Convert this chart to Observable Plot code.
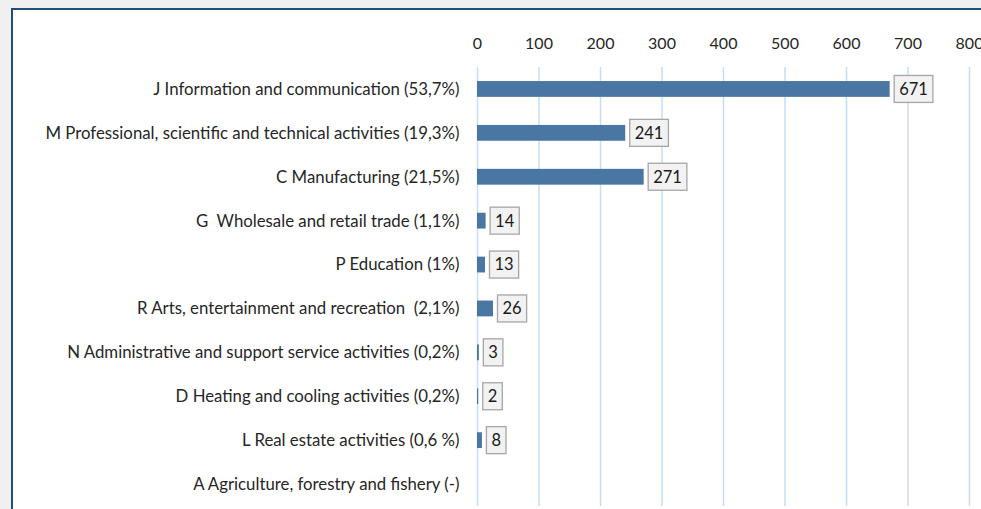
<!DOCTYPE html>
<html><head><meta charset="utf-8">
<script src="https://cdn.jsdelivr.net/npm/d3@7"></script>
<script src="https://cdn.jsdelivr.net/npm/@observablehq/plot@0.6"></script>
<style>
html,body{margin:0;padding:0;background:#f0f0f0;overflow:hidden;width:981px;height:509px}
#frame{position:absolute;left:11px;top:8px;width:980px;height:510px;background:#fff;border-left:2px solid #1f4e79;border-top:2px solid #1f4e79;}
#frame svg{overflow:visible}
svg text{white-space:pre}
#frame [aria-label^="x-axis"] text{font-size:16px}
#frame [aria-label^="y-axis"] text{font-size:16.8px}
#frame g.valbox text{font-size:16.5px}
</style></head><body><div id="frame"></div>
<script>
const categories = [
  "J Information and communication (53,7%)",
  "M Professional, scientific and technical activities (19,3%)",
  "C Manufacturing (21,5%)",
  "G  Wholesale and retail trade (1,1%)",
  "P Education (1%)",
  "R Arts, entertainment and recreation  (2,1%)",
  "N Administrative and support service activities (0,2%)",
  "D Heating and cooling activities (0,2%)",
  "L Real estate activities (0,6 %)",
  "A Agriculture, forestry and fishery (-)"
];
const counts = [671, 241, 271, 14, 13, 26, 3, 2, 8, null];
const xTicks = [0, 100, 200, 300, 400, 500, 600, 700, 800];

const rows = categories.map((c, i) => ({category: c, count: counts[i]}));
const withValue = rows.filter(d => d.count != null);
const FONT = "Lato";
const BOXFONT = 16.5;
const ctx = document.createElement("canvas").getContext("2d");
ctx.font = `${BOXFONT}px ${FONT}`;

const labelBoxes = Plot.text(withValue, {
  x: "count", y: "category", text: d => String(d.count),
  render(index, scales, values) {
    const bw = scales.y && scales.y.bandwidth ? scales.y.bandwidth() : 0;
    const g = d3.create("svg:g").attr("class", "valbox");
    for (const i of index) {
      const t = String(withValue[i].count);
      const w = ctx.measureText(t).width + 10;
      const x0 = values.x[i] + 4.5;
      const cy = values.y[i] + bw / 2;
      g.append("rect").attr("x", x0).attr("y", cy - 13.5).attr("width", w).attr("height", 27)
        .attr("fill", "#f2f2f2").attr("stroke", "#a6a6a6").attr("stroke-width", 1.3);
      g.append("text").attr("x", x0 + w / 2).attr("y", cy).attr("dy", "0.36em")
        .attr("text-anchor", "middle").attr("fill", "#1a1a1a").text(t);
    }
    return g.node();
  }
});

const chart = Plot.plot({
  width: 968, height: 499,
  marginLeft: 464, marginRight: 12, marginTop: 57, marginBottom: 3,
  style: {fontFamily: FONT, fontSize: "16px", color: "#262626", background: "transparent", overflow: "visible"},
  x: {domain: [0, 800], axis: "top", ticks: xTicks, tickSize: 0, tickPadding: 19, label: null},
  y: {domain: categories, paddingInner: 0.64, paddingOuter: 0.32, round: false, tickSize: 0, tickPadding: 18, label: null},
  marks: [
    Plot.gridX(xTicks, {stroke: "#c3def7", strokeOpacity: 1, strokeWidth: 1.5}),
    Plot.barX(withValue, {x: "count", y: "category", fill: "#4a76a3"}),
    labelBoxes
  ]
});
document.getElementById("frame").appendChild(chart);
</script></body></html>
